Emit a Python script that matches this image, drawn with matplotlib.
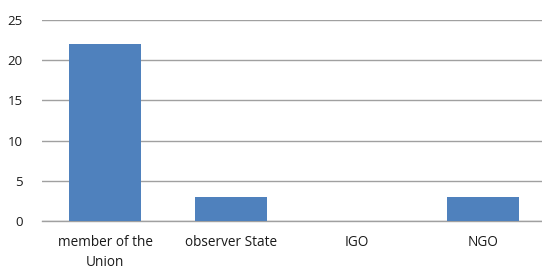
import matplotlib
matplotlib.use("Agg")
import matplotlib.pyplot as plt

categories = ["member of the\nUnion", "observer State", "IGO", "NGO"]
values = [22, 3, 0, 3]
yticks = [0, 5, 10, 15, 20, 25]

plt.rcParams['font.family'] = ['Open Sans', 'DejaVu Sans']

fig = plt.figure(figsize=(5.42, 2.69), dpi=100)
ax = fig.add_axes([42/542, 1 - 221/269, 504/542, 201/269])
ax.bar(range(len(categories)), values, width=0.57, color="#4F81BD", zorder=3)
ax.set_xlim(-0.5, len(categories) - 0.5)
ax.set_ylim(0, 25)
ax.set_yticks(yticks)
ax.set_yticklabels([str(t) for t in yticks], fontsize=9.5, color="#1a1a1a")
ax.set_xticks(range(len(categories)))
ax.set_xticklabels(categories, fontsize=9.8, color="#1a1a1a", linespacing=1.5)
ax.yaxis.grid(True, color="#A0A0A0", linewidth=1.0, zorder=0)
for s in ["top", "right", "left"]:
    ax.spines[s].set_visible(False)
ax.spines["bottom"].set_color("#A0A0A0")
ax.spines["bottom"].set_linewidth(1.0)
ax.tick_params(axis="both", length=0)
ax.tick_params(axis="y", pad=14)
ax.tick_params(axis="x", pad=10)
fig.savefig("out.png", dpi=100)
